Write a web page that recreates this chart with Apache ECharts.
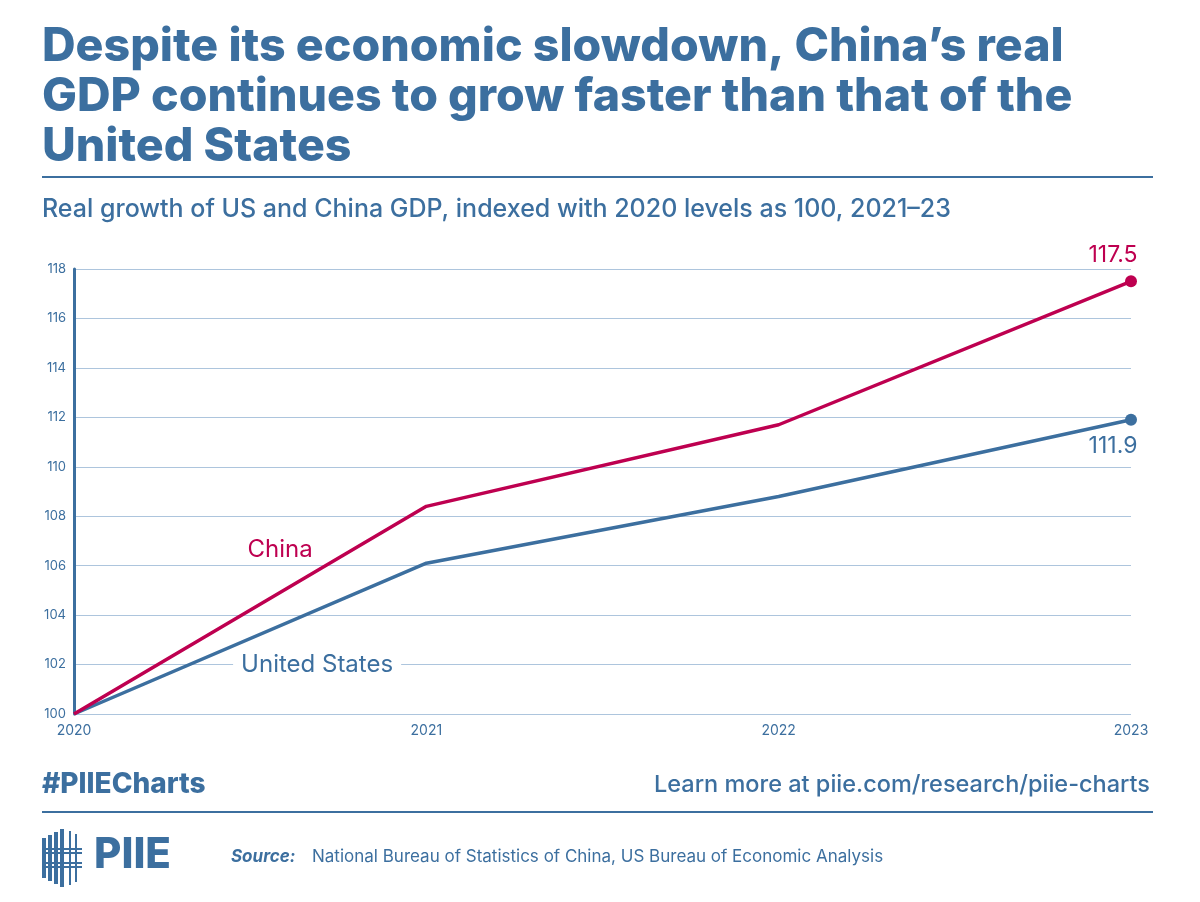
<!DOCTYPE html>
<html>
<head>
<meta charset="utf-8">
<script src="https://cdn.jsdelivr.net/npm/echarts@6/dist/echarts.min.js"></script>
<style>
  html, body { margin: 0; padding: 0; background: #fff; }
  #main { width: 1200px; height: 902px; }
</style>
</head>
<body>
<div id="main"></div>
<script>
// data, index 2020 = 100
var years = [2020, 2021, 2022, 2023];
var chinaGdp = [100, 108.4, 111.7, 117.5];
var usGdp = [100, 106.1, 108.8, 111.9];
var yTicks = [100, 102, 104, 106, 108, 110, 112, 114, 116, 118];
// series name labels: [x, y, text]
var chinaLabel = [2020.585, 106.65, 'China'];
var usLabel = [2020.69, 102, 'United States'];

var BLUE = '#3c6f9f';
var RED = '#be0050';
var GRID = '#adc5dd';
var FONT = 'Inter, "Open Sans", sans-serif';

function pairs(xs, ys) {
  return xs.map(function (x, i) { return [x, ys[i]]; });
}

function isLast(p) {
  return p.dataIndex === years.length - 1;
}

var myChart = echarts.init(document.getElementById('main'));

myChart.setOption({
  backgroundColor: '#fff',
  animation: false,
  grid: { left: 74, right: 69, top: 269, bottom: 188 },
  xAxis: {
    type: 'value',
    min: 2020, max: 2023, interval: 1,
    axisLine: { show: false },
    axisTick: { show: false },
    splitLine: { show: false },
    axisLabel: {
      color: BLUE, fontFamily: FONT, fontSize: 14, margin: 10,
      formatter: function (v) { return String(v); }
    }
  },
  yAxis: {
    type: 'value',
    min: yTicks[0], max: yTicks[yTicks.length - 1], interval: 2,
    axisLine: { show: true, onZero: false, lineStyle: { color: BLUE, width: 3 } },
    axisTick: { show: false },
    splitLine: { lineStyle: { color: GRID, width: 1.2 } },
    axisLabel: { color: BLUE, fontFamily: FONT, fontSize: 13, margin: 8 }
  },
  series: [
    {
      name: 'United States',
      type: 'line',
      data: pairs(years, usGdp),
      lineStyle: { color: BLUE, width: 3.5 },
      itemStyle: { color: BLUE },
      symbol: function (v, p) { return isLast(p) ? 'circle' : 'none'; },
      symbolSize: 12,
      label: {
        show: true,
        position: 'bottom',
        offset: [-18, 4],
        color: BLUE,
        fontFamily: FONT,
        fontSize: 23,
        formatter: function (p) { return isLast(p) ? p.value[1].toFixed(1) : ''; }
      },
      markPoint: {
        symbol: 'rect', symbolSize: 1,
        itemStyle: { color: 'rgba(0,0,0,0)' },
        label: {
          show: true, position: 'inside',
          color: BLUE, fontFamily: FONT, fontSize: 24,
          backgroundColor: '#fff', padding: [2, 8],
          formatter: function (p) { return p.name; }
        },
        data: [{ name: usLabel[2], coord: [usLabel[0], usLabel[1]] }]
      },
      z: 3
    },
    {
      name: 'China',
      type: 'line',
      data: pairs(years, chinaGdp),
      lineStyle: { color: RED, width: 3.5 },
      itemStyle: { color: RED },
      symbol: function (v, p) { return isLast(p) ? 'circle' : 'none'; },
      symbolSize: 12,
      label: {
        show: true,
        position: 'top',
        offset: [-18, -4],
        color: RED,
        fontFamily: FONT,
        fontSize: 23,
        formatter: function (p) { return isLast(p) ? p.value[1].toFixed(1) : ''; }
      },
      markPoint: {
        symbol: 'rect', symbolSize: 1,
        itemStyle: { color: 'rgba(0,0,0,0)' },
        label: {
          show: true, position: 'inside',
          color: RED, fontFamily: FONT, fontSize: 24,
          formatter: function (p) { return p.name; }
        },
        data: [{ name: chinaLabel[2], coord: [chinaLabel[0], chinaLabel[1]] }]
      },
      z: 4
    }
  ],
  graphic: [
    {
      type: 'text', left: 42, top: 22,
      style: {
        text: 'Despite its economic slowdown, China\u2019s real\nGDP continues to grow faster than that of the\nUnited States',
        fill: BLUE, font: '800 46.5px ' + FONT, lineHeight: 50
      }
    },
    { type: 'rect', shape: { x: 42, y: 176, width: 1111, height: 2 }, style: { fill: BLUE } },
    {
      type: 'text', left: 42, top: 197,
      style: {
        text: 'Real growth of US and China GDP, indexed with 2020 levels as 100, 2021\u201323',
        fill: BLUE, font: '500 25px ' + FONT
      }
    },
    {
      type: 'text', left: 42, top: 771,
      style: { text: '#PIIECharts', fill: BLUE, font: '800 28px ' + FONT }
    },
    {
      type: 'text', right: 50, top: 773,
      style: { text: 'Learn more at piie.com/research/piie-charts', fill: BLUE, font: '500 23.5px ' + FONT }
    },
    { type: 'rect', shape: { x: 42, y: 811, width: 1111, height: 2 }, style: { fill: BLUE } },
    // PIIE logo
    {
      type: 'group', left: 42, top: 829,
      children: [
        { type: 'rect', shape: { x: 0, y: 10, width: 4, height: 40 }, style: { fill: BLUE } },
        { type: 'rect', shape: { x: 6, y: 7, width: 4, height: 46 }, style: { fill: BLUE } },
        { type: 'rect', shape: { x: 12, y: 4, width: 4, height: 52 }, style: { fill: BLUE } },
        { type: 'rect', shape: { x: 18, y: 1, width: 4, height: 58 }, style: { fill: BLUE } },
        { type: 'rect', shape: { x: 27, y: 3, width: 2, height: 54 }, style: { fill: BLUE } },
        { type: 'rect', shape: { x: 33, y: 6, width: 2, height: 48 }, style: { fill: BLUE } },
        { type: 'rect', shape: { x: 0, y: 20, width: 40, height: 2 }, style: { fill: BLUE } },
        { type: 'rect', shape: { x: 0, y: 24, width: 40, height: 2 }, style: { fill: BLUE } },
        { type: 'rect', shape: { x: 0, y: 34, width: 40, height: 2 }, style: { fill: BLUE } },
        { type: 'rect', shape: { x: 0, y: 38, width: 40, height: 2 }, style: { fill: BLUE } },
        {
          type: 'text', x: 52, y: 6,
          style: { text: 'PIIE', fill: BLUE, font: '800 42px ' + FONT }
        }
      ]
    },
    {
      type: 'text', left: 231, top: 848,
      style: { text: 'Source:', fill: BLUE, font: 'italic 700 17px ' + FONT }
    },
    {
      type: 'text', left: 312, top: 848,
      style: {
        text: 'National Bureau of Statistics of China, US Bureau of Economic Analysis',
        fill: BLUE, font: '400 17px ' + FONT
      }
    }
  ]
});
</script>
</body>
</html>
